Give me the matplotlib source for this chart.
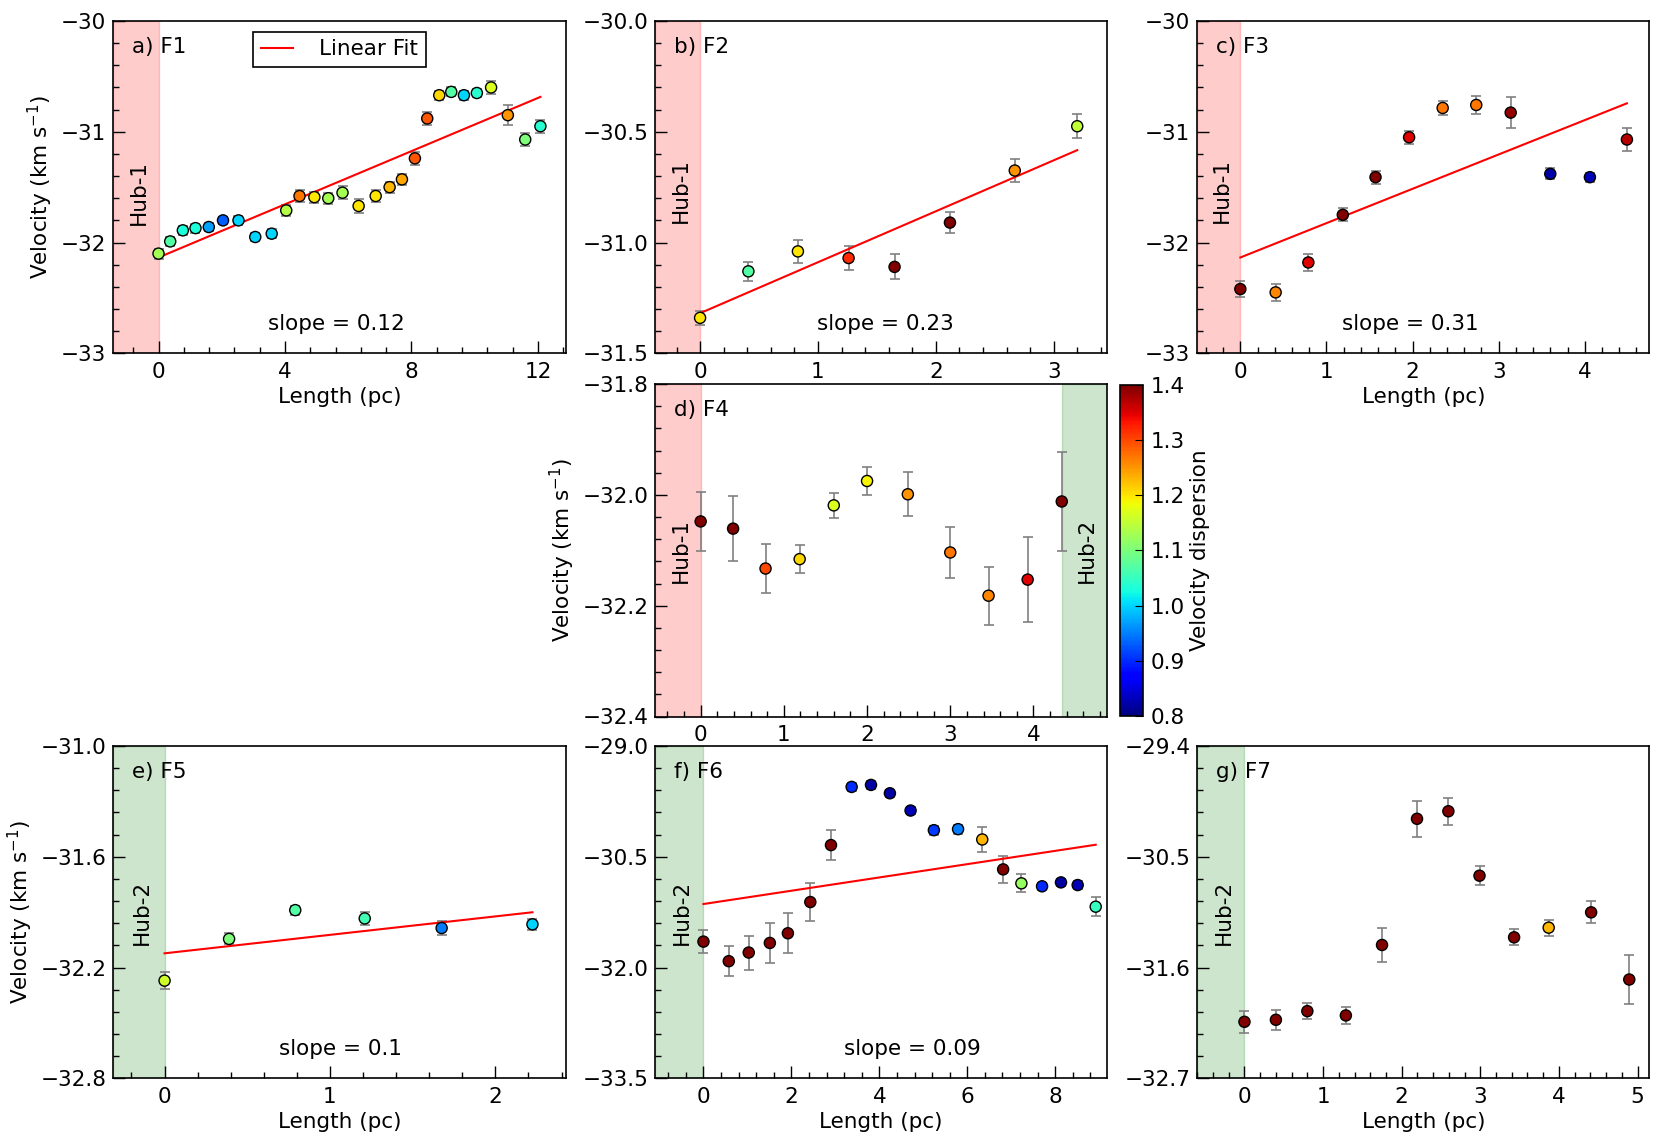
import matplotlib.pyplot as plt
import matplotlib.transforms as mtransforms
import numpy as np
from matplotlib.ticker import AutoMinorLocator, MultipleLocator, FormatStrFormatter

plt.rcParams['font.family'] = 'DejaVu Sans'
plt.rcParams['font.size'] = 15.5
plt.rcParams['mathtext.default'] = 'regular'

# ---- data ----
# F1
f1_len = [0.0, 0.37, 0.77, 1.17, 1.59, 2.04, 2.53, 3.06, 3.58, 4.04, 4.46, 4.93, 5.37, 5.82,
          6.33, 6.87, 7.31, 7.70, 8.11, 8.50, 8.88, 9.26, 9.66, 10.07, 10.52, 11.05, 11.60, 12.08]
f1_vel = [-32.10, -31.99, -31.89, -31.87, -31.86, -31.80, -31.80, -31.95, -31.92, -31.71, -31.58,
          -31.59, -31.60, -31.55, -31.67, -31.58, -31.50, -31.43, -31.24, -30.88, -30.67, -30.64,
          -30.67, -30.65, -30.60, -30.85, -31.07, -30.95]
f1_err = [0.045, 0.04, 0.04, 0.04, 0.04, 0.035, 0.04, 0.04, 0.04, 0.05, 0.05, 0.05, 0.05, 0.06,
          0.06, 0.055, 0.05, 0.05, 0.06, 0.06, 0.04, 0.04, 0.04, 0.04, 0.06, 0.09, 0.063, 0.06]
f1_disp = [1.13, 1.07, 1.03, 1.03, 0.97, 0.93, 1.0, 1.0, 1.0, 1.14, 1.27, 1.2, 1.13, 1.13,
           1.2, 1.2, 1.23, 1.24, 1.29, 1.29, 1.21, 1.07, 1.0, 1.04, 1.17, 1.25, 1.1, 1.04]

# F2
f2_len = [0.0, 0.41, 0.83, 1.26, 1.65, 2.12, 2.67, 3.20]
f2_vel = [-31.34, -31.13, -31.04, -31.07, -31.11, -30.91, -30.675, -30.475]
f2_err = [0.033, 0.043, 0.052, 0.054, 0.056, 0.048, 0.054, 0.053]
f2_disp = [1.2, 1.07, 1.2, 1.32, 1.4, 1.4, 1.25, 1.15]

# F3
f3_len = [0.0, 0.41, 0.79, 1.19, 1.57, 1.96, 2.35, 2.74, 3.14, 3.60, 4.06, 4.49]
f3_vel = [-32.42, -32.45, -32.18, -31.75, -31.41, -31.05, -30.785, -30.758, -30.827, -31.38,
          -31.41, -31.07]
f3_err = [0.07, 0.08, 0.08, 0.06, 0.06, 0.06, 0.066, 0.08, 0.14, 0.05, 0.04, 0.10]
f3_disp = [1.4, 1.26, 1.35, 1.4, 1.4, 1.35, 1.27, 1.27, 1.39, 0.82, 0.83, 1.37]

# F4
f4_len = [0.0, 0.39, 0.78, 1.19, 1.60, 2.00, 2.49, 3.00, 3.46, 3.93, 4.34]
f4_vel = [-32.048, -32.061, -32.133, -32.116, -32.019, -31.975, -31.999, -32.104, -32.182,
          -32.153, -32.012]
f4_err = [0.053, 0.058, 0.044, 0.025, 0.022, 0.025, 0.04, 0.046, 0.052, 0.077, 0.09]
f4_disp = [1.4, 1.4, 1.3, 1.21, 1.17, 1.19, 1.25, 1.27, 1.26, 1.35, 1.4]

# F5
f5_len = [0.0, 0.39, 0.79, 1.21, 1.675, 2.224]
f5_vel = [-32.271, -32.045, -31.889, -31.934, -31.986, -31.966]
f5_err = [0.045, 0.03, 0.025, 0.037, 0.04, 0.03]
f5_disp = [1.16, 1.1, 1.07, 1.06, 0.95, 1.0]

# F6
f6_len = [0.0, 0.576, 1.03, 1.51, 1.92, 2.43, 2.90, 3.37, 3.81, 4.24, 4.71, 5.24, 5.79, 6.34,
          6.815, 7.23, 7.70, 8.13, 8.51, 8.92]
f6_vel = [-31.649, -31.914, -31.797, -31.667, -31.536, -31.113, -30.342, -29.554, -29.527,
          -29.64, -29.874, -30.14, -30.126, -30.266, -30.671, -30.86, -30.90, -30.847, -30.883,
          -31.176]
f6_err = [0.155, 0.2, 0.23, 0.27, 0.27, 0.26, 0.205, 0.05, 0.05, 0.05, 0.05, 0.06, 0.06, 0.17,
          0.18, 0.12, 0.05, 0.05, 0.06, 0.13]
f6_disp = [1.4, 1.4, 1.4, 1.4, 1.4, 1.4, 1.4, 0.9, 0.82, 0.82, 0.83, 0.91, 0.95, 1.23, 1.4,
           1.12, 0.9, 0.82, 0.83, 1.05]

# F7
f7_len = [0.0, 0.40, 0.80, 1.29, 1.75, 2.195, 2.594, 2.99, 3.43, 3.87, 4.41, 4.895]
f7_vel = [-32.139, -32.119, -32.033, -32.076, -31.376, -30.123, -30.048, -30.688, -31.30,
          -31.204, -31.052, -31.719]
f7_err = [0.11, 0.1, 0.08, 0.08, 0.17, 0.18, 0.135, 0.095, 0.08, 0.08, 0.11, 0.245]
f7_disp = [1.4, 1.4, 1.4, 1.4, 1.4, 1.4, 1.4, 1.4, 1.4, 1.23, 1.4, 1.4]

# linear fits (intercept, slope) as given in the panels
fit_intercepts = {'F1': -32.135, 'F2': -31.319, 'F3': -32.135, 'F5': -32.123, 'F6': -31.14}
fit_slopes = {'F1': 0.12, 'F2': 0.23, 'F3': 0.31, 'F5': 0.1, 'F6': 0.09}

W, H = 1660, 1145
fig = plt.figure(figsize=(W / 100, H / 100), dpi=100)

COLS = [(113.3, 565.7), (655.3, 1106.7), (1197.3, 1649.3)]
ROWS = [(21, 353.3), (384, 716.5), (746, 1078.3)]


def box(col, row):
    (l, r), (t, b) = COLS[col], ROWS[row]
    return [l / W, 1 - b / H, (r - l) / W, (b - t) / H]


def draw_panel(ax, name, tag, length, vel, err, disp, xlim, ylim, xstep, hubs,
               slope_x=None, hub_y=0.5, ylabel=True, xlabel=True):
    length = np.array(length)
    ax.set_xlim(xlim)
    ax.set_ylim(ylim)
    trans = mtransforms.blended_transform_factory(ax.transData, ax.transAxes)
    for hub, x0, x1, col in hubs:
        ax.axvspan(x0, x1, color=col, alpha=0.2, zorder=0)
        ax.text(x0 + 0.56 * (x1 - x0), hub_y, hub, rotation=90, transform=trans,
                ha='center', va='center')
    ax.errorbar(length, vel, yerr=err, fmt='none', ecolor='gray', elinewidth=1.2,
                capsize=3.5, capthick=1.2, zorder=2)
    sc = ax.scatter(length, vel, c=disp, cmap='jet', vmin=0.8, vmax=1.4, s=64,
                    edgecolors='k', linewidths=1.0, zorder=3)
    if name in fit_slopes:
        xs = np.array([0, length.max()])
        ax.plot(xs, fit_intercepts[name] + fit_slopes[name] * xs, 'r-', lw=1.5,
                label='Linear Fit', zorder=2.5)
        ax.text(slope_x, 0.088, f'slope = {fit_slopes[name]}', transform=ax.transAxes,
                ha='center', va='center')
    ax.text(0.041, 0.923, f'{tag}) {name}', transform=ax.transAxes, va='center')
    ax.set_yticks(np.linspace(ylim[0], ylim[1], 4))
    ax.xaxis.set_major_locator(MultipleLocator(xstep))
    ax.xaxis.set_minor_locator(AutoMinorLocator(5))
    ax.yaxis.set_minor_locator(AutoMinorLocator(5))
    ax.tick_params(which='both', direction='in', top=False, right=False, width=1)
    ax.tick_params(which='major', length=8.4)
    ax.tick_params(which='minor', length=4)
    ax.tick_params(axis='x', which='major', pad=6)
    ax.tick_params(axis='y', which='major', pad=5)
    for sp in ax.spines.values():
        sp.set_linewidth(1.2)
    if xlabel:
        ax.set_xlabel('Length (pc)')
    if ylabel:
        ax.set_ylabel('Velocity (km s$^{-1}$)')
    return sc


RED, GREEN = 'red', 'green'

ax_a = fig.add_axes(box(0, 0))
draw_panel(ax_a, 'F1', 'a', f1_len, f1_vel, f1_err, f1_disp, (-1.43, 12.88), (-33, -30), 4,
           [('Hub-1', -1.43, 0, RED)], slope_x=0.492, hub_y=0.485)
leg = ax_a.legend(loc='upper center', fancybox=False, edgecolor='k', framealpha=1,
                  handlelength=1.5, handletextpad=1.2, borderpad=0.35)
leg.get_frame().set_linewidth(1.2)

ax_b = fig.add_axes(box(1, 0))
draw_panel(ax_b, 'F2', 'b', f2_len, f2_vel, f2_err, f2_disp, (-0.38, 3.45), (-31.5, -30.0), 1,
           [('Hub-1', -0.38, 0, RED)], slope_x=0.51, hub_y=0.49, ylabel=False)

ax_c = fig.add_axes(box(2, 0))
draw_panel(ax_c, 'F3', 'c', f3_len, f3_vel, f3_err, f3_disp, (-0.5, 4.75), (-33, -30), 1,
           [('Hub-1', -0.5, 0, RED)], slope_x=0.472, hub_y=0.49, ylabel=False)

ax_d = fig.add_axes(box(1, 1))
sc = draw_panel(ax_d, 'F4', 'd', f4_len, f4_vel, f4_err, f4_disp, (-0.545, 4.88), (-32.4, -31.8), 1,
                [('Hub-1', -0.545, 0, RED), ('Hub-2', f4_len[-1], 4.88, GREEN)], xlabel=False)

cax = fig.add_axes([1120 / W, 1 - 716 / H, 23.3 / W, 331 / H])
cb = fig.colorbar(sc, cax=cax, ticks=np.arange(0.8, 1.41, 0.1))
cb.ax.yaxis.set_major_formatter(FormatStrFormatter('%.1f'))
cb.ax.tick_params(direction='in', length=6, pad=5)
cb.outline.set_linewidth(1.2)
cb.set_label('Velocity dispersion')

ax_e = fig.add_axes(box(0, 2))
draw_panel(ax_e, 'F5', 'e', f5_len, f5_vel, f5_err, f5_disp, (-0.31, 2.425), (-32.8, -31.0), 1,
           [('Hub-2', -0.31, 0, GREEN)], slope_x=0.502)

ax_f = fig.add_axes(box(1, 2))
draw_panel(ax_f, 'F6', 'f', f6_len, f6_vel, f6_err, f6_disp, (-1.095, 9.17), (-33.5, -29.0), 2,
           [('Hub-2', -1.095, 0, GREEN)], slope_x=0.569, ylabel=False)

ax_g = fig.add_axes(box(2, 2))
draw_panel(ax_g, 'F7', 'g', f7_len, f7_vel, f7_err, f7_disp, (-0.6, 5.15), (-32.7, -29.4), 1,
           [('Hub-2', -0.6, 0, GREEN)], ylabel=False)

fig.savefig('out.png', dpi=100)
plt.close(fig)
